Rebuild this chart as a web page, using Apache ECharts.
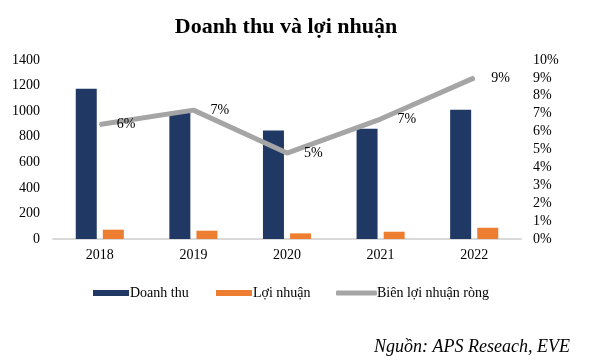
<!DOCTYPE html>
<html><head><meta charset="utf-8">
<script src="https://cdn.jsdelivr.net/npm/echarts@6/dist/echarts.min.js"></script>
<style>html,body{margin:0;padding:0;background:#fff}#c{width:591px;height:361px}</style>
</head><body><div id="c"></div>
<script>
const categories = ['2018', '2019', '2020', '2021', '2022'];
const revenue = [1175, 990, 848, 862, 1010];
const profit = [73, 65, 44, 57, 88];
const margin = [6.4, 7.2, 4.8, 6.7, 9.0];
const leftTicks = [0, 200, 400, 600, 800, 1000, 1200, 1400];
const rightTicks = ['0%','1%','2%','3%','4%','5%','6%','7%','8%','9%','10%'];

const font = 'Liberation Serif, Times New Roman, serif';
const chart = echarts.init(document.getElementById('c'));
chart.setOption({
  animation: false,
  textStyle: { fontFamily: font },
  title: {
    text: 'Doanh thu và lợi nhuận', left: 281, top: 11, textAlign: 'center',
    textStyle: { fontFamily: font, fontSize: 22, fontWeight: 'bold', color: '#000' }
  },
  graphic: [{
    type: 'text', right: 21, top: 338,
    style: { text: 'Nguồn: APS Reseach, EVE', font: 'italic 18px ' + font, fill: '#000' }
  }],
  legend: [
    { data: [{ name: 'Doanh thu', icon: 'rect' }], left: 88, top: 281, itemWidth: 36, itemHeight: 6, itemGap: 0,
      textStyle: { fontFamily: font, fontSize: 14, color: '#000', padding: [0, 0, 0, -4] } },
    { data: [{ name: 'Lợi nhuận', icon: 'rect' }], left: 211, top: 281, itemWidth: 36, itemHeight: 6,
      textStyle: { fontFamily: font, fontSize: 14, color: '#000', padding: [0, 0, 0, -4] } },
    { data: [{ name: 'Biên lợi nhuận ròng', icon: 'roundRect' }], left: 331, top: 281, itemWidth: 41, itemHeight: 5,
      textStyle: { fontFamily: font, fontSize: 14, color: '#000', padding: [0, 0, 0, -5] } }
  ],
  grid: { left: 53, right: 70, top: 60, bottom: 122 },
  xAxis: {
    type: 'category', data: categories,
    axisLine: { lineStyle: { color: '#D9D9D9', width: 2 } },
    axisTick: { show: false },
    axisLabel: { fontFamily: font, fontSize: 14, color: '#000', margin: 9 }
  },
  yAxis: [
    { type: 'value', min: 0, max: 1400, interval: 200,
      axisLine: { show: false }, axisTick: { show: false }, splitLine: { show: false },
      axisLabel: { fontFamily: font, fontSize: 14, color: '#000', margin: 13,
        formatter: v => leftTicks.includes(v) ? String(v) : '' } },
    { type: 'value', min: 0, max: 10, interval: 1,
      axisLine: { show: false }, axisTick: { show: false }, splitLine: { show: false },
      axisLabel: { fontFamily: font, fontSize: 14, color: '#000', margin: 12,
        formatter: v => rightTicks[Math.round(v)] } }
  ],
  series: [
    { name: 'Doanh thu', type: 'bar', data: revenue, barWidth: 21, barGap: '29%',
      itemStyle: { color: '#203864' } },
    { name: 'Lợi nhuận', type: 'bar', data: profit, barWidth: 21,
      itemStyle: { color: '#ED7D31' } },
    { name: 'Biên lợi nhuận ròng', type: 'line', yAxisIndex: 1, data: margin,
      symbol: 'circle', symbolSize: 2, showSymbol: true,
      lineStyle: { color: '#A5A5A5', width: 5 }, itemStyle: { color: '#A5A5A5' },
      label: { show: true, position: 'right', distance: 16, fontFamily: font, fontSize: 14, color: '#000',
        formatter: p => Math.round(p.value) + '%' } }
  ]
});
</script></body></html>
